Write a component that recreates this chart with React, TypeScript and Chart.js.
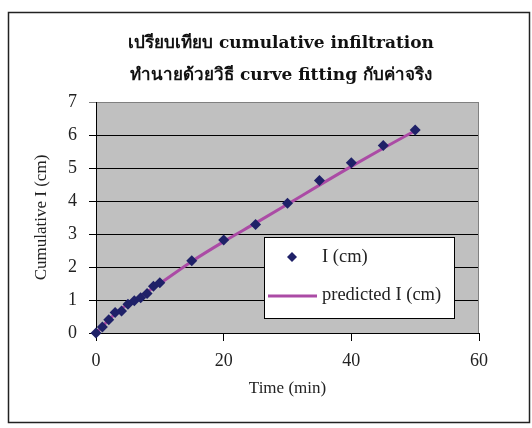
import React, { useEffect, useRef } from "react";
import { Chart, registerables } from "chart.js";

Chart.register(...registerables);

const titleLines = [
  "เปรียบเทียบ cumulative infiltration",
  "ทำนายด้วยวิธี curve fitting กับค่าจริง",
];
const xTitle = "Time (min)";
const yTitle = "Cumulative I (cm)";
const seriesMeasuredLabel = "I (cm)";
const seriesPredictedLabel = "predicted I (cm)";

const times = [0, 1, 2, 3, 4, 5, 6, 7, 8, 9, 10, 15, 20, 25, 30, 35, 40, 45, 50];
const measured = [0, 0.18, 0.4, 0.62, 0.67, 0.87, 0.98, 1.07, 1.2, 1.42, 1.52, 2.19, 2.82, 3.29, 3.93, 4.62, 5.16, 5.68, 6.15];
const predicted = [0, 0.2, 0.4, 0.58, 0.74, 0.88, 1.0, 1.12, 1.25, 1.37, 1.5, 2.17, 2.77, 3.33, 3.9, 4.48, 5.05, 5.6, 6.13];

const xMin = 0, xMax = 60, xStep = 20;
const yMin = 0, yMax = 7, yStep = 1;

const NAVY = "#1f2168";
const PURPLE = "#ab4ba5";
const PLOT_BG = "#c0c0c0";
const AXIS_FONT = "'Liberation Serif', 'DejaVu Serif', serif";
const TITLE_FONT = "'DejaVu Serif', 'Noto Sans', serif";
const TEXT_COLOR = "#222";

const decorPlugin = {
  id: "decor",
  beforeDraw(chart: any) {
    const { ctx, chartArea: ca } = chart;
    ctx.save();
    ctx.fillStyle = "#fff";
    ctx.fillRect(0, 0, chart.width, chart.height);
    ctx.strokeStyle = "#222";
    ctx.lineWidth = 1.5;
    ctx.strokeRect(8.5, 12.5, 521, 410);
    ctx.fillStyle = PLOT_BG;
    ctx.fillRect(ca.left, ca.top, ca.right - ca.left, ca.bottom - ca.top);
    ctx.restore();
  },
  beforeDatasetsDraw(chart: any) {
    const { ctx, chartArea: ca } = chart;
    ctx.save();
    ctx.strokeStyle = "#808080";
    ctx.lineWidth = 1;
    ctx.beginPath();
    ctx.moveTo(ca.right - 0.5, ca.top);
    ctx.lineTo(ca.right - 0.5, ca.bottom);
    ctx.stroke();
    ctx.restore();
  },
  afterDraw(chart: any) {
    const { ctx, chartArea: ca } = chart;
    ctx.save();
    // title
    ctx.fillStyle = "#111";
    ctx.font = `bold 17px ${TITLE_FONT}`;
    ctx.textAlign = "center";
    ctx.textBaseline = "middle";
    ctx.fillText(titleLines[0], 281, 44);
    ctx.fillText(titleLines[1], 281, 76);

    // legend box
    const bx = ca.left + 168, by = ca.top + 135, bw = 190, bh = 81;
    ctx.fillStyle = "#fff";
    ctx.fillRect(bx, by, bw, bh);
    ctx.strokeStyle = "#000";
    ctx.lineWidth = 1;
    ctx.strokeRect(bx + 0.5, by + 0.5, bw, bh);

    // marker entry
    const mx = bx + 28, my = by + 20, r = 5;
    ctx.fillStyle = NAVY;
    ctx.beginPath();
    ctx.moveTo(mx, my - r);
    ctx.lineTo(mx + r, my);
    ctx.lineTo(mx, my + r);
    ctx.lineTo(mx - r, my);
    ctx.closePath();
    ctx.fill();

    // line entry
    ctx.strokeStyle = PURPLE;
    ctx.lineWidth = 3;
    ctx.beginPath();
    ctx.moveTo(bx + 4, by + 59);
    ctx.lineTo(bx + 53, by + 59);
    ctx.stroke();

    ctx.fillStyle = TEXT_COLOR;
    ctx.font = `18.5px ${AXIS_FONT}`;
    ctx.textAlign = "left";
    ctx.textBaseline = "middle";
    ctx.fillText(seriesMeasuredLabel, bx + 58, my);
    ctx.fillText(seriesPredictedLabel, bx + 58, by + 58);
    ctx.restore();
  },
};

export default function App() {
  const canvasRef = useRef<HTMLCanvasElement | null>(null);

  useEffect(() => {
    const canvas = canvasRef.current;
    if (!canvas) return;
    const measuredPts = times.map((t, i) => ({ x: t, y: measured[i] }));
    const predictedPts = times.map((t, i) => ({ x: t, y: predicted[i] }));

    const chart = new Chart(canvas, {
      type: "scatter",
      data: {
        datasets: [
          {
            label: seriesMeasuredLabel,
            data: measuredPts,
            pointStyle: "rectRot",
            pointRadius: 5.5,
            backgroundColor: NAVY,
            borderColor: NAVY,
            borderWidth: 0,
            showLine: false,
            clip: false,
          },
          {
            label: seriesPredictedLabel,
            data: predictedPts,
            showLine: true,
            pointRadius: 0,
            borderColor: PURPLE,
            backgroundColor: PURPLE,
            borderWidth: 3,
            cubicInterpolationMode: "monotone",
          },
        ],
      },
      options: {
        responsive: false,
        animation: false,
        layout: { padding: { top: 102, right: 53, left: 0, bottom: 0 } },
        plugins: {
          legend: { display: false },
          title: { display: false },
          tooltip: { enabled: false },
        },
        scales: {
          x: {
            type: "linear",
            min: xMin,
            max: xMax,
            ticks: {
              stepSize: xStep,
              color: TEXT_COLOR,
              font: { family: AXIS_FONT, size: 18 },
              padding: 9,
            },
            grid: {
              drawOnChartArea: false,
              drawTicks: true,
              tickLength: 8,
              color: "#000",
            },
            border: { color: "#000", width: 1 },
            title: {
              display: true,
              text: xTitle,
              color: TEXT_COLOR,
              font: { family: AXIS_FONT, size: 17 },
              padding: { top: 0, bottom: 28.8 },
            },
            afterFit(scale: any) {
              scale.height = 95;
            },
          },
          y: {
            type: "linear",
            min: yMin,
            max: yMax,
            ticks: {
              stepSize: yStep,
              color: TEXT_COLOR,
              font: { family: AXIS_FONT, size: 18 },
              padding: 12,
            },
            grid: {
              drawOnChartArea: true,
              drawTicks: true,
              tickLength: 7,
              color: (ctx: any) => (ctx.tick && ctx.tick.value === yMax ? "#808080" : "#000"),
            },
            border: { color: "#000", width: 1 },
            title: {
              display: true,
              text: yTitle,
              color: TEXT_COLOR,
              font: { family: AXIS_FONT, size: 17 },
              padding: { top: 31.8, bottom: 0 },
            },
            afterFit(scale: any) {
              scale.width = 96;
            },
          },
        },
      },
      plugins: [decorPlugin],
    });
    return () => chart.destroy();
  }, []);

  return (
    <div style={{ position: "fixed", left: 0, top: 0, width: 532, height: 428, background: "#fff" }}>
      <canvas ref={canvasRef} width={532} height={428} style={{ display: "block", width: 532, height: 428 }} />
    </div>
  );
}
